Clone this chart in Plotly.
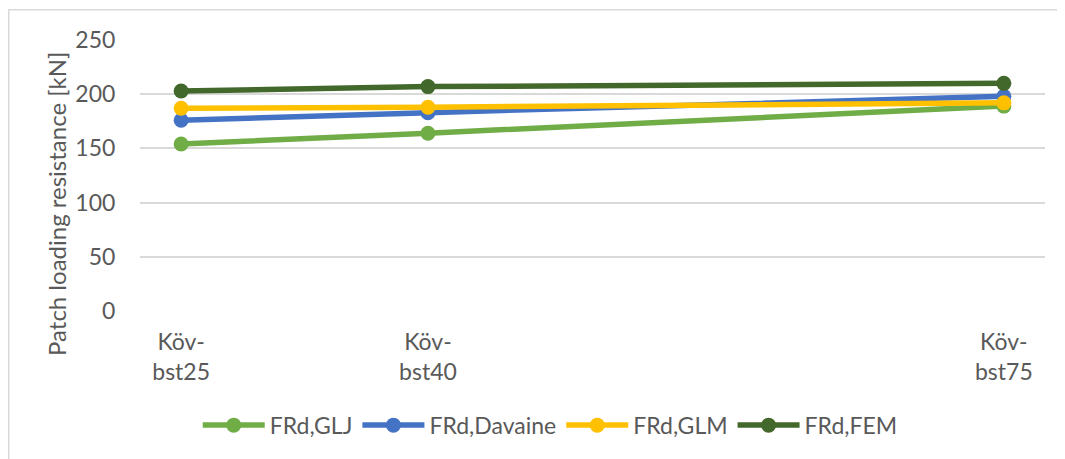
import plotly.graph_objects as go

x_pos = [25, 40, 75]
x_labels = ["Köv-<br>bst25", "Köv-<br>bst40", "Köv-<br>bst75"]
series_names = ["FRd,GLJ", "FRd,Davaine", "FRd,GLM", "FRd,FEM"]
glj = [154, 164, 189]
davaine = [176, 183, 198]
glm = [187, 188, 192]
fem = [203, 207, 210]
colors = ["#70AD47", "#4472C4", "#FFC000", "#43682B"]
y_title = "Patch loading resistance [kN]"

fig = go.Figure()
for name, vals, c in zip(series_names, [glj, davaine, glm, fem], colors):
    fig.add_trace(go.Scatter(
        x=x_pos, y=vals, name=name, mode="lines+markers",
        line=dict(color=c, width=5.5),
        marker=dict(color=c, size=15),
    ))

font_fam = "Lato, Open Sans, sans-serif"
grey = "#595959"
fig.update_layout(
    width=1057, height=451,
    margin=dict(l=132, r=20, t=32, b=148),
    paper_bgcolor="white", plot_bgcolor="white",
    font=dict(family=font_fam, color=grey, size=23),
    showlegend=True,
    legend=dict(orientation="h", xref="container", yref="container",
                x=0.513, xanchor="center", y=0.075, yanchor="middle",
                font=dict(size=23, color=grey), itemwidth=62, tracegroupgap=0),
    xaxis=dict(range=[22.5, 77.5], tickmode="array", tickvals=x_pos, ticktext=x_labels,
               showgrid=False, zeroline=False, showline=False,
               ticks="outside", ticklen=10, tickcolor="rgba(0,0,0,0)",
               tickfont=dict(size=23, color=grey)),
    yaxis=dict(range=[0, 250], dtick=50, showgrid=True, gridcolor="#D9D9D9", gridwidth=1.5,
               zeroline=False, showline=False,
               ticks="outside", ticklen=19, tickcolor="rgba(0,0,0,0)",
               tickfont=dict(size=23, color=grey)),
    annotations=[dict(text=y_title, textangle=-90, xref="paper", yref="paper",
                      x=-0.0917, y=0.395, xanchor="center", yanchor="middle",
                      showarrow=False, font=dict(size=24, color=grey))],
    shapes=[dict(type="rect", xref="paper", yref="paper", x0=-0.145, x1=1.2, y0=-0.8, y1=1.112,
                 line=dict(color="#D9D9D9", width=1.5), fillcolor="rgba(0,0,0,0)", layer="below")],
)
fig.write_html("out.html")
